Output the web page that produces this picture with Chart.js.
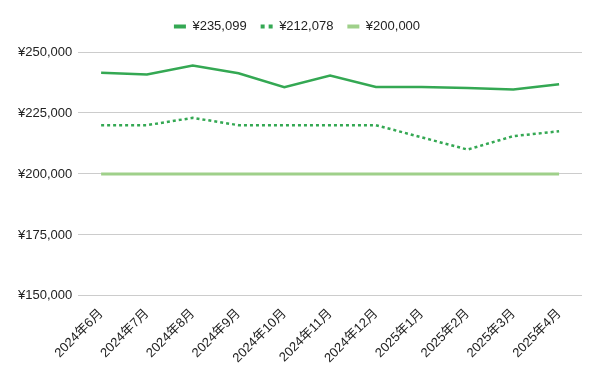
<!DOCTYPE html>
<html>
<head>
<meta charset="utf-8">
<script src="https://cdn.jsdelivr.net/npm/chart.js@4"></script>
<style>
  html, body { margin: 0; padding: 0; background: #fff; }
  #wrap { width: 600px; height: 371px; }
</style>
</head>
<body>
<div id="wrap"><canvas id="chart"></canvas></div>
<script>
// 데이터
const months = ['2024年6月', '2024年7月', '2024年8月', '2024年9月', '2024年10月', '2024年11月',
  '2024年12月', '2025年1月', '2025年2月', '2025年3月', '2025年4月'];
const seriesNames = ['¥235,099', '¥212,078', '¥200,000'];
const actualValues = [241500, 240800, 244500, 241300, 235600, 240300, 235700, 235700, 235200, 234600, 236800];
const dottedValues = [220000, 220000, 223000, 220000, 220000, 220000, 220000, 215000, 210000, 215500, 217500];
const baseValues = [200000, 200000, 200000, 200000, 200000, 200000, 200000, 200000, 200000, 200000, 200000];
const yTicks = [150000, 175000, 200000, 225000, 250000];

const FONT = "Arial, 'Liberation Sans', 'Noto Sans CJK JP', sans-serif";
const yen = v => '¥' + new Intl.NumberFormat('en-US').format(v);

// 범례 아래 여백 추가
const legendGap = {
  id: 'legendGap',
  beforeInit(chart) {
    const fit = chart.legend.fit;
    chart.legend.fit = function () {
      fit.bind(chart.legend)();
      this.height += 9;
    };
  }
};

const ctx = document.getElementById('chart').getContext('2d');
new Chart(ctx, {
  type: 'line',
  data: {
    labels: months,
    datasets: [
      { label: seriesNames[0], data: actualValues, borderColor: '#34a853', backgroundColor: '#34a853',
        borderWidth: 2.5, pointRadius: 0, tension: 0 },
      { label: seriesNames[1], data: dottedValues, borderColor: '#34a853', backgroundColor: '#34a853',
        borderWidth: 2.5, borderDash: [3, 3], pointRadius: 0, tension: 0 },
      { label: seriesNames[2], data: baseValues, borderColor: '#9fd08a', backgroundColor: '#9fd08a',
        borderWidth: 3, pointRadius: 0, tension: 0 }
    ]
  },
  options: {
    responsive: true,
    maintainAspectRatio: false,
    animation: false,
    layout: { padding: { left: 12, right: 18, top: 6, bottom: 3 } },
    plugins: {
      legend: {
        position: 'top',
        labels: {
          font: { family: FONT, size: 13 },
          color: '#222',
          usePointStyle: true,
          pointStyle: 'line',
          pointStyleWidth: 12,
          boxHeight: 13,
          padding: 14,
          generateLabels: chart => {
            const items = Chart.defaults.plugins.legend.labels.generateLabels(chart);
            return items.map((it, i) => {
              it.pointStyle = 'line';
              it.lineWidth = 4;
              it.lineDash = i === 1 ? [4, 4] : [];
              return it;
            });
          }
        }
      },
      tooltip: { enabled: false }
    },
    scales: {
      x: {
        offset: true,
        grid: { display: false },
        border: { display: false },
        ticks: {
          autoSkip: false, maxRotation: 45, minRotation: 45,
          font: { family: FONT, size: 13 }, color: '#222', padding: 2
        }
      },
      y: {
        min: 150000, max: 250000,
        afterBuildTicks: axis => { axis.ticks = yTicks.map(v => ({ value: v })); },
        grid: { color: '#cccccc', drawTicks: false },
        border: { display: false },
        ticks: {
          font: { family: FONT, size: 13 }, color: '#222', padding: 6,
          callback: v => yen(v)
        }
      }
    }
  },
  plugins: [legendGap]
});
</script>
</body>
</html>
